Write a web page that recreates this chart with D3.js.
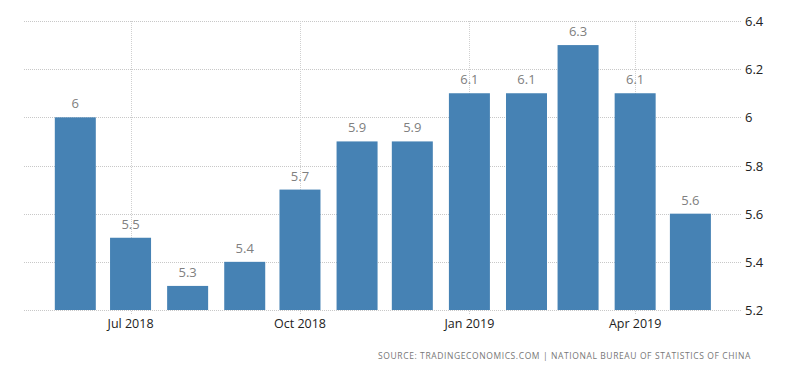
<!DOCTYPE html>
<html>
<head>
<meta charset="utf-8">
<script src="https://cdn.jsdelivr.net/npm/d3@7"></script>
<style>
  body { margin: 0; background: #fff; }
  svg { display: block; font-family: "Open Sans", "DejaVu Sans", sans-serif; }
</style>
</head>
<body>
<div id="chart"></div>
<script>
// monthly values, Jun 2018 .. May 2019
var months = ["2018-06", "2018-07", "2018-08", "2018-09", "2018-10", "2018-11",
              "2018-12", "2019-01", "2019-02", "2019-03", "2019-04", "2019-05"];
var values = [6, 5.5, 5.3, 5.4, 5.7, 5.9, 5.9, 6.1, 6.1, 6.3, 6.1, 5.6];
var yTicks = [5.2, 5.4, 5.6, 5.8, 6, 6.2, 6.4];
var xTicks = ["2018-07", "2018-10", "2019-01", "2019-04"];
var source = "SOURCE: TRADINGECONOMICS.COM | NATIONAL BUREAU OF STATISTICS OF CHINA";

var width = 800, height = 373;
var parse = d3.timeParse("%Y-%m");
var data = months.map(function(m, i) { return { date: parse(m), value: values[i] }; });

var gridLeft = 24, gridRight = 741;
var barW = 41;

var x = d3.scaleTime()
  .domain([parse("2018-06"), parse("2019-05")])
  .range([75.3, 690.4]);

var y = d3.scaleLinear()
  .domain([5.2, 6.4])
  .range([310, 21]);

var svg = d3.select("#chart")
  .append("svg")
  .attr("width", width)
  .attr("height", height);

// horizontal grid
svg.append("g")
  .selectAll("line")
  .data(yTicks)
  .enter()
  .append("line")
  .attr("x1", gridLeft)
  .attr("x2", gridRight)
  .attr("y1", d => Math.round(y(d)) + 0.5)
  .attr("y2", d => Math.round(y(d)) + 0.5)
  .style("stroke", "#c8c8c8")
  .style("stroke-dasharray", "1,1");

// vertical grid
svg.append("g")
  .selectAll("line")
  .data(xTicks)
  .enter()
  .append("line")
  .attr("x1", d => Math.round(x(parse(d))) + 0.5)
  .attr("x2", d => Math.round(x(parse(d))) + 0.5)
  .attr("y1", y(6.4))
  .attr("y2", y(5.2) + 5)
  .style("stroke", "#d0d0d0")
  .style("stroke-dasharray", "1,1");

// bars
svg.append("g")
  .selectAll("rect")
  .data(data)
  .enter()
  .append("rect")
  .attr("x", d => x(d.date) - barW / 2)
  .attr("y", d => y(d.value))
  .attr("width", barW)
  .attr("height", d => y(5.2) - y(d.value))
  .style("fill", "#4682b4");

// value labels
svg.append("g")
  .selectAll("text")
  .data(data)
  .enter()
  .append("text")
  .attr("x", d => x(d.date))
  .attr("y", d => y(d.value) - 9)
  .attr("text-anchor", "middle")
  .style("font-size", "13px")
  .style("fill", "#808080")
  .text(d => d3.format("")(d.value));

// y axis labels on the right
svg.append("g")
  .selectAll("text")
  .data(yTicks)
  .enter()
  .append("text")
  .attr("x", 745)
  .attr("y", d => y(d) + 5)
  .style("font-size", "13px")
  .style("fill", "#222")
  .text(d => d3.format("")(d));

// x axis labels
var fmt = d3.timeFormat("%b %Y");
svg.append("g")
  .selectAll("text")
  .data(xTicks)
  .enter()
  .append("text")
  .attr("x", d => x(parse(d)))
  .attr("y", 328)
  .attr("text-anchor", "middle")
  .style("font-size", "12.5px")
  .style("fill", "#222")
  .text(d => fmt(parse(d)));

svg.append("text")
  .attr("x", 751)
  .attr("y", 359)
  .attr("text-anchor", "end")
  .style("font-size", "8.5px")
  .style("letter-spacing", "0.6px")
  .style("fill", "#777")
  .text(source);
</script>
</body>
</html>
